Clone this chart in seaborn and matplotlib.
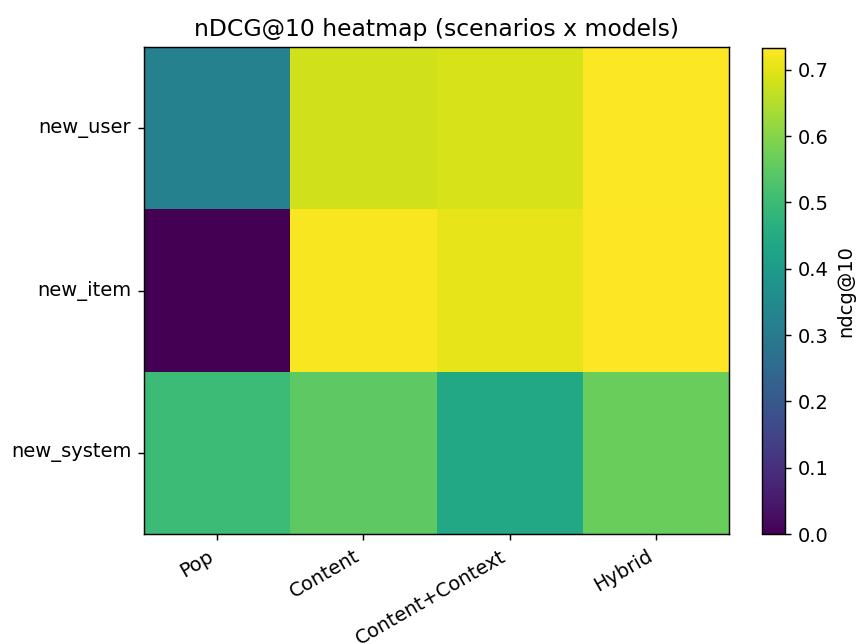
import matplotlib
matplotlib.use("Agg")
import matplotlib.pyplot as plt
import numpy as np
import pandas as pd
import seaborn as sns

scenarios = ["new_user", "new_item", "new_system"]
models = ["Pop", "Content", "Content+Context", "Hybrid"]
ndcg_new_user = [0.32, 0.68, 0.69, 0.73]
ndcg_new_item = [0.00, 0.727, 0.707, 0.733]
ndcg_new_system = [0.50, 0.55, 0.44, 0.565]

df = pd.DataFrame([ndcg_new_user, ndcg_new_item, ndcg_new_system],
                  index=scenarios, columns=models)

sns.set_style("white")
plt.rcParams["font.family"] = ["DejaVu Sans"]
for key in ["text.color", "axes.labelcolor", "xtick.color", "ytick.color"]:
    plt.rcParams[key] = "black"

fig = plt.figure(figsize=(859 / 130, 644 / 130), dpi=130)
ax = fig.add_axes([0.1676, 0.1708, 0.6811, 0.7562])
cax = fig.add_axes([0.887, 0.1708, 0.027, 0.7547])

sns.heatmap(df, ax=ax, cbar_ax=cax, cmap="viridis",
            cbar_kws={"label": "ndcg@10"})

for s in ax.spines.values():
    s.set_visible(True)
    s.set_color("black")
    s.set_linewidth(0.8)
cb = ax.collections[0].colorbar
cb.outline.set_visible(True)
cb.outline.set_edgecolor("black")
cb.outline.set_linewidth(0.8)
cax.tick_params(labelsize=10.8, length=3.5, width=0.8, left=False, right=True)
cb.set_label("ndcg@10", fontsize=10.8)

ax.tick_params(axis="both", length=3.5, width=0.8, labelsize=10.8,
               bottom=True, left=True)
ax.set_xticklabels(models, rotation=30, ha="right", rotation_mode="default")
ax.set_yticklabels(scenarios, rotation=0)
ax.set_xlabel("")
ax.set_ylabel("")
ax.set_title("nDCG@10 heatmap (scenarios x models)", fontsize=13)

fig.savefig("out.png", dpi=130)
